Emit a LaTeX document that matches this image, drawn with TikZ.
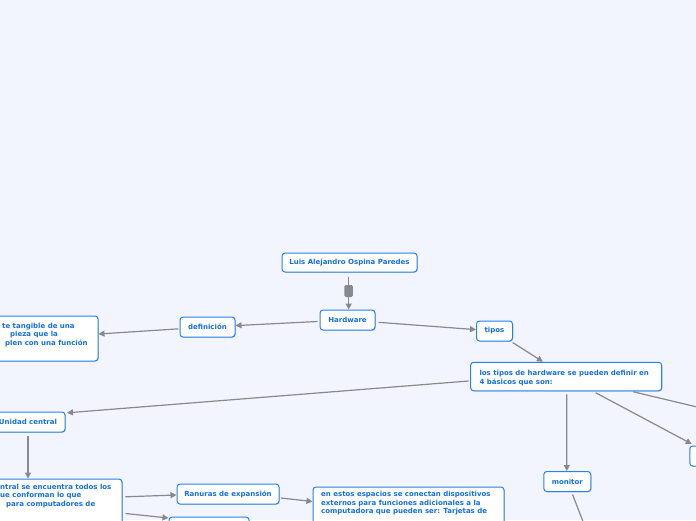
\documentclass[tikz,border=0pt]{standalone}
\usepackage{fontspec}
\setmainfont{DejaVu Sans}
\usetikzlibrary{arrows.meta,calc,shadows}
\definecolor{bg}{RGB}{242,245,253}
\definecolor{bord}{RGB}{40,130,230}
\definecolor{txtb}{RGB}{22,112,220}
\definecolor{conngray}{RGB}{135,137,142}
\newcommand{\mfs}{\fontsize{7}{8.7}\selectfont\bfseries}
\tikzset{
 mm/.style={draw=bord, fill=white, line width=1pt, rounded corners=3pt, text=txtb, font=\mfs, inner sep=0pt,
   drop shadow={shadow xshift=0.8pt, shadow yshift=-0.8pt, opacity=0.25, fill=black!60}},
 mtxt/.style={text=txtb, font=\mfs, inner sep=0pt, align=left, anchor=north west},
 conn/.style={draw=conngray, line width=1.2pt, -{Triangle[length=6pt,width=6pt]}},
 connplain/.style={draw=conngray, line width=1.2pt},
}
\begin{document}
\begin{tikzpicture}[x=1pt,y=-1pt]
\useasboundingbox (0,0) rectangle (696,520);
\fill[bg] (0,0) rectangle (696,520);
\clip (0,0) rectangle (696,520);

% nodes
\node[mm, minimum width=135pt, minimum height=19pt] (title) at (349.5,262.5) {Luis Alejandro Ospina Paredes};
\node[fill=conngray, rounded corners=1.5pt, minimum width=8.5pt, minimum height=12pt, inner sep=0pt] (hdl) at (348.7,291) {};
\node[mm, minimum width=55pt, minimum height=20pt] (hw) at (347.5,320) {Hardware};
\node[mm, minimum width=55pt, minimum height=20pt] (def) at (207.5,327) {definición};
\node[mm, minimum width=140pt, minimum height=45pt] (defbox) at (28,338.5) {};
\node[mtxt] (deftxt) at (2,322.5) {te tangible de una\\\hspace*{8pt}pieza que la\\\hspace*{3pt}plen con una función};
\node[mm, minimum width=36pt, minimum height=20pt] (tipos) at (494.5,331) {tipos};
\node[mm, minimum width=191pt, minimum height=28.5pt] (lt) at (566.2,376.5) {};
\node[mtxt, font=\fontsize{7}{9.3}\selectfont\bfseries] (lttxt) at (479.3,369.5) {los tipos de hardware se pueden definir en\\4 básicos que son:};
\node[mm, minimum width=74pt, minimum height=20pt] (uc) at (28,422) {Unidad central};
\node[mm, minimum width=182pt, minimum height=60pt] (bl) at (31,509) {};
\node[mtxt] (bltxt) at (0,483.5) {ntral se encuentra todos los\\ue conforman lo que\\\hspace*{6pt}para computadores de};
\node[mm, minimum width=102pt, minimum height=20pt] (ran) at (228,494) {Ranuras de expansión};
\node[mm, minimum width=80pt, minimum height=20pt] (b10) at (209,527) {};
\node[mm, minimum width=191pt, minimum height=50pt] (est) at (408.5,512) {};
\node[mtxt] (esttxt) at (321,491) {en estos espacios se conectan dispositivos\\externos para funciones adicionales a la\\computadora que pueden ser: Tarjetas de};
\node[mm, minimum width=47pt, minimum height=20pt] (mon) at (567.3,481.5) {monitor};
\node[mm, minimum width=60pt, minimum height=20pt, anchor=north west] (rb) at (689.3,445.5) {};
\coordinate (ltchild) at (760,422);
\coordinate (monchild) at (592,545);

% connectors
\draw[connplain] ($(title.south)+(-0.8,4)$) -- (hdl.north);
\draw[conn] (hdl.south) -- (hdl.south |- hw.north);
\draw[conn, shorten <=2pt] (hw) -- (def);
\draw[conn, shorten <=1pt] (def) -- (defbox);
\draw[conn, shorten <=3pt] (hw) -- (tipos);
\draw[conn, shorten <=2pt] (tipos) -- (lt);
\draw[conn] ($(lt.west)+(-1.5,4.5)$) -- ($(uc.north east)+(1.5,1.3)$);
\draw[conn] ($(lt.south)+(0.5,3)$) -- ($(mon.north)+(-0.5,0)$);
\draw[conn] ($(lt.south)+(29.5,1.5)$) -- ($(rb.north west)+(2.5,-1.5)$);
\draw[conn] ($(lt.south)+(67,0.5)$) -- (ltchild);
\draw[conn] ($(uc.south)+(0,3)$) -- (uc.south |- bl.north);
\draw[conn] ($(bl.north east)+(3,18.3)$) -- ($(ran.west)+(0,1)$);
\draw[conn] ($(bl.north east)+(3,35)$) -- ($(b10.north west)+(0,1.5)$);
\draw[conn] ($(ran.east)+(1.5,4)$) -- ($(est.north west)+(0,15)$);
\draw[conn] ($(mon.south)+(5.3,2.5)$) -- (monchild);
\end{tikzpicture}
\end{document}
